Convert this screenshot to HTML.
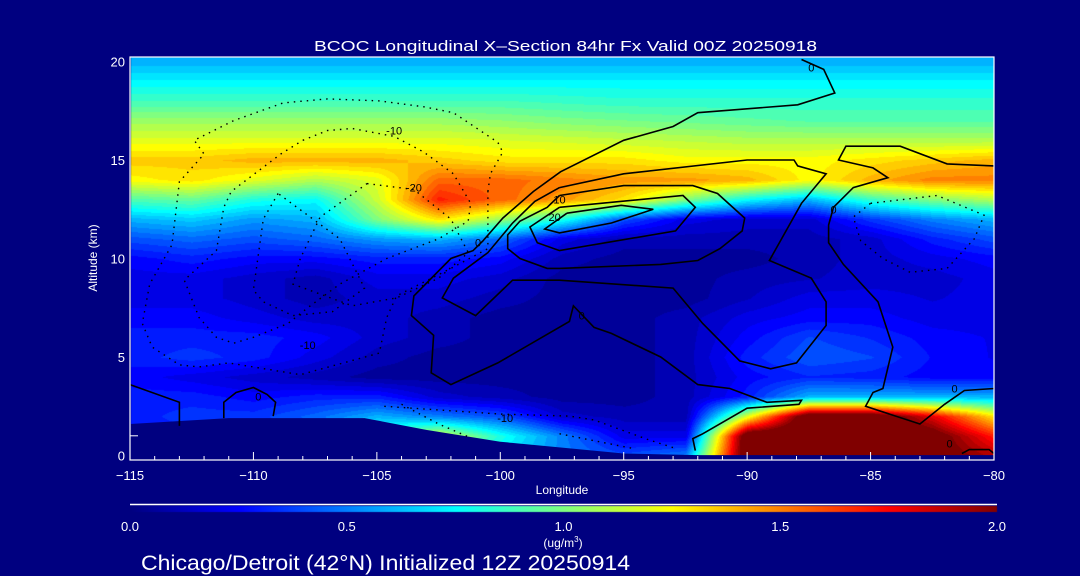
<!DOCTYPE html>
<html><head><meta charset="utf-8">
<style>
html,body{margin:0;padding:0;background:#000080;}
#wrap{position:relative;width:1080px;height:576px;background:#000080;overflow:hidden;font-family:"Liberation Sans",sans-serif;}
canvas,svg{position:absolute;left:0;top:0;}
</style></head><body>
<div id="wrap">
<canvas id="field" width="1080" height="576"></canvas>
<svg id="svg" width="1080" height="576"></svg>
</div>
<script>
// ---- data ----
const lons = [-115,-112.5,-110,-107.5,-105,-102.5,-100,-97.5,-95,-92.5,-90,-87.5,-85,-82.5,-80];
const alts = [0,1,2,3,4,5,6,7,8,9,10,11,12,13,14,15,16,17,18,19,20];
// rows listed from 20 km down to 0 km (ug/m3)
const r20=[.6,.6,.6,.6,.6,.6,.6,.6,.6,.6,.6,.6,.6,.6,.6];
const r19=[.74,.74,.74,.74,.74,.74,.74,.74,.74,.74,.74,.74,.74,.74,.74];
const r18=[.88,.88,.88,.88,.88,.88,.88,.86,.84,.84,.84,.84,.84,.84,.84];
const r17=[1.05,1.05,1.05,1.05,1.05,1.05,1.03,1.0,.98,.96,.94,.92,.92,.92,.92];
const r16=[1.2,1.2,1.2,1.2,1.2,1.2,1.18,1.16,1.14,1.12,1.1,1.1,1.1,1.1,1.1];
const r15=[1.35,1.35,1.4,1.4,1.4,1.35,1.3,1.3,1.3,1.25,1.25,1.25,1.3,1.35,1.4];
const r14=[1.25,1.3,1.2,1.1,1.2,1.55,1.55,1.5,1.45,1.45,1.4,1.25,1.4,1.5,1.5];
const r13=[.9,.95,.8,.75,1.15,1.7,1.55,1.45,1.3,1.0,.75,.6,.85,1.0,1.1];
const r12=[.6,.65,.55,.6,1.0,1.3,1.05,.8,.4,.2,.15,.15,.35,.5,.6];
const r11=[.4,.45,.4,.45,.55,.6,.45,.2,.1,.1,.1,.1,.15,.3,.4];
const r10=[.25,.3,.25,.25,.3,.3,.25,.1,.05,.05,.05,.1,.15,.2,.25];
const r9=[.2,.2,.15,.1,.2,.2,.15,.05,.05,.05,.1,.12,.15,.15,.2];
const r8=[.2,.2,.15,.1,.15,.15,.1,.05,.05,.05,.12,.2,.2,.17,.2];
const r7=[.25,.25,.2,.15,.15,.1,.05,.05,.05,.1,.2,.25,.25,.2,.2];
const r6=[.3,.3,.3,.25,.15,.1,.05,.05,.05,.1,.25,.38,.32,.25,.22];
const r5=[.3,.35,.3,.2,.1,.05,.05,.05,.05,.1,.3,.42,.38,.27,.22];
const r4=[.25,.2,.15,.1,.05,.05,.05,.05,.05,.1,.25,.32,.3,.25,.25];
const r3=[.3,.3,.25,.3,.3,.15,.1,.05,.05,.1,.3,.6,.6,.6,.6];
const r2=[.3,.35,.35,.45,.6,.5,.4,.15,.1,.1,1.2,2.2,2.2,1.8,1.3];
const r1=[.3,.3,.3,.4,.9,1.2,.8,.5,.2,.2,2.2,2.2,2.2,2.1,1.7];
const r0=[.3,.3,.3,.4,.7,1.0,.7,.5,.4,.5,2.2,2.2,2.2,2.1,1.9];
const field=[r0,r1,r2,r3,r4,r5,r6,r7,r8,r9,r10,r11,r12,r13,r14,r15,r16,r17,r18,r19,r20];
const terrain=[[-115,1.6],[-111,1.9],[-105.5,1.9],[-103,1.3],[-100,0.7],[-97.5,0.4],[-95,0.1],[-92,0.02],[-80,0.02]];
const xTicks=[-115,-110,-105,-100,-95,-90,-85,-80];
const yTicks=[0,5,10,15,20];
const cbTicks=[0.0,0.5,1.0,1.5,2.0];
// contours [lon,alt]
const solid0Big=[[-87.8,20.1],[-86.9,19.6],[-86.45,18.4],[-87.95,17.8],[-92,17.4],[-93,16.7],[-95,16],[-97.56,14.4],[-98.66,13.4],[-99.9,12.05],[-100.7,10.9],[-101.1,10.4],[-102,10],[-103.5,8.1],[-103.6,7.1],[-102.7,6.1],[-102.8,4.2],[-102,3.6],[-100.1,4.7],[-97.2,6.8],[-97.04,7.6],[-96.2,6.5],[-95.5,6.2],[-93.5,5],[-92,3.6],[-90.7,3.4],[-89.2,2.7],[-87.8,2.8],[-87.9,2.6],[-90,2.4],[-91.8,1.1],[-92.2,0.86],[-92.1,0.25]];
const solidA=[[-97.6,13.2],[-95,13.7],[-92.2,13.7],[-91.2,13.3],[-90.1,12.05],[-90.2,11.4],[-91.1,10.5],[-92,9.9],[-93.5,9.7],[-97.6,9.5],[-98.1,9.5],[-99.2,10],[-99.7,10.5],[-99.7,11.2],[-99.2,11.9],[-98.1,12.6],[-97.6,13.2]];
const solidB=[[-97.6,12.6],[-92.6,13.2],[-92.1,12.6],[-92.9,11.4],[-97.6,10.4],[-98.5,10.8],[-98.8,11.6],[-97.6,12.6]];
const solidC=[[-97.3,12.3],[-95.1,12.7],[-93.8,12.5],[-95.5,11.8],[-97.6,11.3],[-98.2,11.5],[-97.3,12.3]];
const solidD=[[-97.6,13.6],[-95,14.3],[-90,15],[-88.1,15],[-87.95,14.7],[-86.8,14.3],[-87.8,12.8],[-89.1,9.9],[-87.4,9],[-86.8,7.8],[-86.8,6.6],[-88,4.7],[-89.05,4.4],[-90.3,4.8],[-91.8,6.7],[-93,8.5],[-97.6,8.9],[-99.5,8.9],[-101,7.1],[-102.35,8.0],[-101.9,9],[-100.5,10.3],[-99.5,11.8],[-98.6,12.9],[-97.6,13.6]];
const solidE=[[-80,14.7],[-81.9,14.8],[-83.8,15.7],[-86,15.7],[-86.3,15.0],[-84.9,14.6],[-84.3,14.1],[-85.7,13.6],[-86.5,12.6],[-86.7,11.7],[-86.7,10.8],[-86.1,9.7],[-84.7,7.8],[-84.1,5.5],[-84.5,3.4],[-84.9,3.2],[-85.2,2.5],[-83,1.6],[-82,2.6],[-81.2,3.3],[-80,3.4]];
const solidF=[[-111.2,1.9],[-111.2,2.7],[-110.7,3.2],[-110,3.45],[-109.45,3.1],[-109.1,2.7],[-109.2,2.0]];
const solidG=[[-115,3.6],[-113,2.7],[-113,1.5]];
const solidH=[[-81.3,0.1],[-81,0.3],[-80.2,0.3],[-80,0.1]];
const dot1=[[-100.5,13.4],[-100.4,14.3],[-99.9,15.4],[-100.1,15.9],[-101.9,17.4],[-103.1,17.7],[-104.9,18],[-107,18.1],[-108.8,17.9],[-110.8,17],[-112.4,16],[-112,15.3],[-113,13.9],[-113.3,10.7],[-114.2,8.7],[-114.5,6.7],[-114.1,5.5],[-113,4.6],[-112.2,4.5],[-111,4.7],[-108.1,4.1],[-104.9,5.2],[-104.6,7],[-104.2,8.1],[-102,9.5],[-100.5,10.5],[-100.5,13.4]];
const dot2=[[-108,16],[-107,16.5],[-106,16.6],[-104.3,16.2],[-103.1,15.4],[-101.9,14.3],[-101.2,12.8],[-101.3,11.9],[-102.5,11],[-104.6,10],[-106.5,8.7],[-107.8,7.5],[-108.6,6.7],[-110,6],[-110.8,5.7],[-111.5,6],[-112.2,7],[-112.8,8.9],[-111.5,10.4],[-111.2,12.6],[-110.9,13.4],[-108.9,15.3],[-108,16]];
const dot3=[[-105.4,13.8],[-103.5,13.5],[-102,12],[-101.3,10.3],[-102.5,9],[-104.2,8],[-106,7.6],[-108.4,8.7],[-108.1,10],[-107.3,12.1],[-105.4,13.8]];
const dot4=[[-109,13.3],[-109.6,12],[-110,8.4],[-109.6,7.8],[-108.4,7.1],[-106.8,7.3],[-105.5,8.5],[-106.5,11],[-109,13.3]];
const dot5=[[-104.7,2.5],[-100,2.1],[-97.2,2],[-96.2,1.8],[-94,0.8],[-93,0.4]];
const dot6=[[-104,2.6],[-102.5,1.6],[-101.2,0.9]];
const dot7=[[-97.6,1.1],[-94.6,0.35]];
const dot8=[[-85,12.8],[-82.3,13.2],[-80.4,12.2],[-80.8,11],[-81.9,9.5],[-83.4,9.3],[-84.5,10],[-85.4,10.9],[-85.7,12.1],[-85,12.8]];
const solidLines=[solid0Big,solidA,solidB,solidC,solidD,solidE,solidF,solidG,solidH];
const dottedLines=[dot1,dot2,dot3,dot4,dot5,dot6,dot7,dot8];
const contourLabels=[[-87.4,19.7,"0"],[-100.9,10.8,"0"],[-109.8,3.0,"0"],[-96.7,7.1,"0"],[-86.5,12.5,"0"],[-81.6,3.4,"0"],[-81.8,0.6,"0"],[-97.6,13.0,"10"],[-97.8,12.1,"20"],[-104.3,16.5,"-10"],[-103.5,13.6,"-20"],[-107.8,5.6,"-10"],[-99.8,1.9,"-10"]];

// ---- axes ----
const X0=130,X1=994,YB=455.5,YT=61.5;
const xs=lon=>X0+(lon+115)/35*(X1-X0);
const ys=a=>YB-a/20*(YB-YT);
const CB0=130,CB1=997;
const cbx=v=>CB0+v/2*(CB1-CB0);
function jet(t){t=Math.max(0,Math.min(1,t));const c=v=>Math.round(255*Math.max(0,Math.min(1,v)));
 return [c(1.5-Math.abs(4*t-3)),c(1.5-Math.abs(4*t-2)),c(1.5-Math.abs(4*t-1))];}
function sample(lon,a){
 let fi=(lon+115)/2.5, fj=a;
 fi=Math.max(0,Math.min(lons.length-1.0001,fi)); fj=Math.max(0,Math.min(alts.length-1.0001,fj));
 const i=Math.floor(fi),j=Math.floor(fj),u=fi-i,v=fj-j;
 return field[j][i]*(1-u)*(1-v)+field[j][i+1]*u*(1-v)+field[j+1][i]*(1-u)*v+field[j+1][i+1]*u*v;}
// ---- draw field ----
const cv=document.getElementById('field'),ctx=cv.getContext('2d');
const img=ctx.createImageData(1080,576);
for(let py=57;py<457;py++){for(let px=131;px<994;px++){
 const lon=-115+(px-X0)/(X1-X0)*35, a=(YB-py)/(YB-YT)*20;
 let v=sample(lon,a); v=Math.round(v*20)/20;
 const c=jet(v/2),k=(py*1080+px)*4;
 img.data[k]=c[0];img.data[k+1]=c[1];img.data[k+2]=c[2];img.data[k+3]=255;}}
for(let py=506;py<512;py++){for(let px=CB0;px<CB1;px++){
 const c=jet((px-CB0)/(CB1-CB0)),k=(py*1080+px)*4;
 img.data[k]=c[0];img.data[k+1]=c[1];img.data[k+2]=c[2];img.data[k+3]=255;}}
ctx.putImageData(img,0,0);
// ---- svg overlay ----
const NS='http://www.w3.org/2000/svg',svg=document.getElementById('svg');
function mk(tag,attrs,parent){const e=document.createElementNS(NS,tag);for(const k in attrs)e.setAttribute(k,attrs[k]);(parent||svg).appendChild(e);return e;}
const terr=mk('polygon',{points:terrain.map(p=>xs(p[0])+','+ys(p[1])).join(' ')+' '+xs(-80)+',458 '+xs(-115)+',458',fill:'#000080'});


solidLines.forEach((ln,i)=>{const e=mk('polyline',{points:ln.map(p=>xs(p[0]).toFixed(1)+','+ys(p[1]).toFixed(1)).join(' '),fill:'none',stroke:'#000',"stroke-width":1.6});
 
 });
dottedLines.forEach((ln,i)=>{const e=mk('polyline',{points:ln.map(p=>xs(p[0]).toFixed(1)+','+ys(p[1]).toFixed(1)).join(' '),fill:'none',stroke:'#000',"stroke-width":1.4,"stroke-dasharray":'1.5 5'});
 
 });
contourLabels.forEach(l=>{const t=mk('text',{x:xs(l[0]),y:ys(l[1])+4,"font-size":11,fill:'#000',"text-anchor":'middle'});t.textContent=l[2];
 
 });
// frame
const fr=mk('rect',{x:X0,y:57,width:X1-X0,height:403,fill:'none',stroke:'#fff',"stroke-width":1.2});


for(let l=-115;l<=-80;l++){const major=xTicks.includes(l);const t=mk('line',{x1:xs(l),x2:xs(l),y1:460,y2:major?452:456,stroke:'#fff',"stroke-width":1});
 
 }
xTicks.forEach(l=>{const t=mk('text',{x:xs(l),y:480,"font-size":13,fill:'#fff',"text-anchor":'middle'});t.textContent=String(l).replace('-','\u2212');
 
 });
yTicks.forEach(a=>{const t=mk('text',{x:125,y:ys(a)+5,"font-size":13,fill:'#fff',"text-anchor":'end'});t.textContent=a;
 
 });
mk('line',{x1:130,x2:138,y1:ys(1),y2:ys(1),stroke:'#fff'});
const xt=mk('text',{x:562,y:494,"font-size":12,fill:'#fff',"text-anchor":'middle'});xt.textContent='Longitude';


const yt=mk('text',{x:0,y:0,"font-size":12,fill:'#fff',"text-anchor":'middle',transform:'translate(97,258) rotate(-90)'});yt.textContent='Altitude (km)';


const ti=mk('text',{x:314,y:51,"font-size":15,fill:'#fff',textLength:503,lengthAdjust:'spacingAndGlyphs'});ti.textContent='BCOC Longitudinal X\u2013Section 84hr  Fx Valid 00Z 20250918';


const cbl=mk('line',{x1:CB0,x2:CB1,y1:504.5,y2:504.5,stroke:'#fff',"stroke-width":1.5});


cbTicks.forEach(v=>{const t=mk('text',{x:cbx(v),y:531,"font-size":13,fill:'#fff',"text-anchor":'middle'});t.textContent=v.toFixed(1);
 
 });
const un=mk('text',{x:563,y:547,"font-size":12,fill:'#fff',"text-anchor":'middle'});un.innerHTML='(ug/m<tspan dy="-5" font-size="8">3</tspan><tspan dy="5">)</tspan>';


const ft=mk('text',{x:141,y:570,"font-size":21,fill:'#fff',textLength:489,lengthAdjust:'spacingAndGlyphs'});ft.textContent='Chicago/Detroit (42\u00B0N) Initialized 12Z 20250914';


</script>
</body></html>
